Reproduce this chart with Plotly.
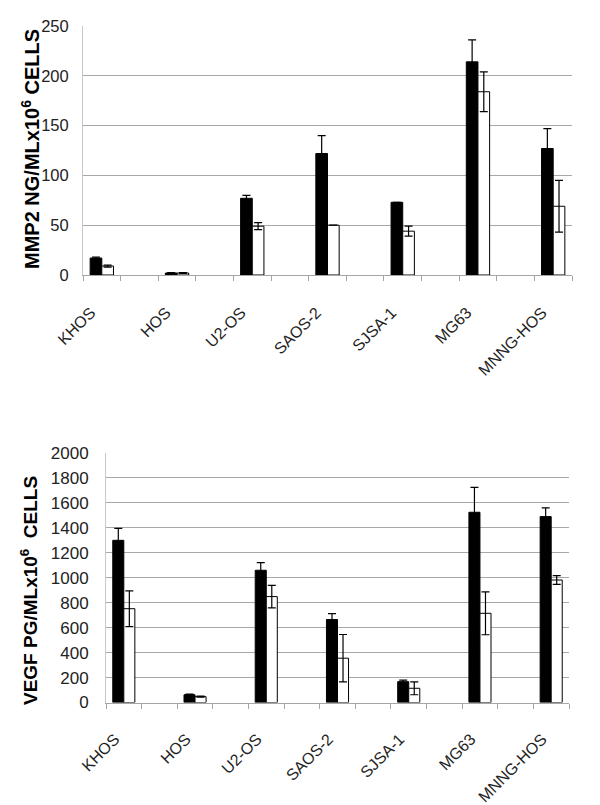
import plotly.graph_objects as go

cats = ["KHOS", "HOS", "U2-OS", "SAOS-2", "SJSA-1", "MG63", "MNNG-HOS"]
mmp2_black = [17, 2, 77, 122, 73, 214, 127]
mmp2_black_err = [1, 0.5, 3, 18, 0, 22, 20]
mmp2_white = [9, 2, 49, 50, 44, 184, 69]
mmp2_white_err = [1, 0.5, 3.5, 0, 5, 20, 26]
vegf_black = [1300, 62, 1060, 665, 167, 1525, 1490]
vegf_black_err = [95, 5, 62, 48, 13, 200, 70]
vegf_white = [752, 47, 849, 355, 114, 715, 982]
vegf_white_err = [143, 5, 90, 190, 52, 172, 35]
mmp2_ticks = [0, 50, 100, 150, 200, 250]
vegf_ticks = list(range(0, 2001, 200))

# categories interleaved with blank slots (as in the source spreadsheet)
xpos = [2 * i for i in range(len(cats))]
slot_edges = [i - 0.5 for i in range(2 * len(cats))]

OFF = 8  # default page body margin
W = 600 - OFF
H = 805 - OFF
FONT = "Liberation Sans, Arial, sans-serif"
BW = 0.31


def px(x):
    return (x - OFF) / W


def py(y):
    return 1 - (y - OFF) / H


fig = go.Figure()


def add_pair(black, berr, white, werr, xa, ya):
    fig.add_trace(go.Bar(
        x=xpos, y=black, width=BW, offset=-BW, xaxis=xa, yaxis=ya,
        marker=dict(color="black", line=dict(color="black", width=1)),
        error_y=dict(type="data", array=berr, color="black", thickness=1.2, width=4),
        showlegend=False))
    fig.add_trace(go.Bar(
        x=xpos, y=white, width=BW, offset=0, xaxis=xa, yaxis=ya,
        marker=dict(color="white", line=dict(color="black", width=1)),
        error_y=dict(type="data", array=werr, color="black", thickness=1.2, width=4),
        showlegend=False))


add_pair(mmp2_black, mmp2_black_err, mmp2_white, mmp2_white_err, "x", "y")
add_pair(vegf_black, vegf_black_err, vegf_white, vegf_white_err, "x2", "y2")


def xaxis_cfg(domain, anchor, size, shift, standoff):
    return dict(
        domain=domain, anchor=anchor, range=[-0.5, 2 * len(cats) - 1.5],
        automargin=False,
        tickmode="array", tickvals=xpos, ticktext=cats, tickangle=-45,
        ticks="", showline=True, linecolor="#a6a6a6", linewidth=1,
        showgrid=False, zeroline=False,
        ticklabelstandoff=standoff, ticklabelshift=shift,
        tickfont=dict(family=FONT, size=size, color="#222222"),
        minor=dict(tickmode="array", tickvals=slot_edges, ticks="outside",
                   ticklen=5, tickcolor="#a6a6a6", tickwidth=1, showgrid=False),
    )


def yaxis_cfg(domain, anchor, rng, ticks, size, standoff):
    return dict(
        domain=domain, anchor=anchor, range=rng, tickmode="array", tickvals=ticks,
        automargin=False,
        showline=True, linecolor="#c8c8c8", linewidth=1, ticks="",
        showgrid=True, gridcolor="#a8a8a8", gridwidth=1, zeroline=False,
        ticklabelstandoff=standoff,
        tickfont=dict(family=FONT, size=size, color="#222222"),
    )


fig.update_layout(
    width=W, height=H, margin=dict(l=0, r=0, t=0, b=0, autoexpand=False),
    paper_bgcolor="white", plot_bgcolor="white", barmode="overlay",
    xaxis=xaxis_cfg([px(83), px(572)], "y", 16, -11, 21),
    yaxis=yaxis_cfg([py(275), py(26)], "x", [0, 250], mmp2_ticks, 16.5, 10),
    xaxis2=xaxis_cfg([px(106), px(569)], "y2", 16, -9, 20),
    yaxis2=yaxis_cfg([py(702.5), py(453)], "x2", [0, 2000], vegf_ticks, 17, 13),
)

fig.add_annotation(
    xref="paper", yref="paper", x=px(30), y=py(149), textangle=-90,
    xanchor="center", yanchor="middle",
    text="<b>MMP2 NG/MLx10<sup>6</sup> CELLS</b>", showarrow=False,
    font=dict(family=FONT, size=20, color="black"))
fig.add_annotation(
    xref="paper", yref="paper", x=px(29), y=py(591), textangle=-90,
    xanchor="center", yanchor="middle",
    text="<b>VEGF PG/MLx10<sup>6</sup>&nbsp; CELLS</b>", showarrow=False,
    font=dict(family=FONT, size=19, color="black"))

fig.write_html("out.html")
